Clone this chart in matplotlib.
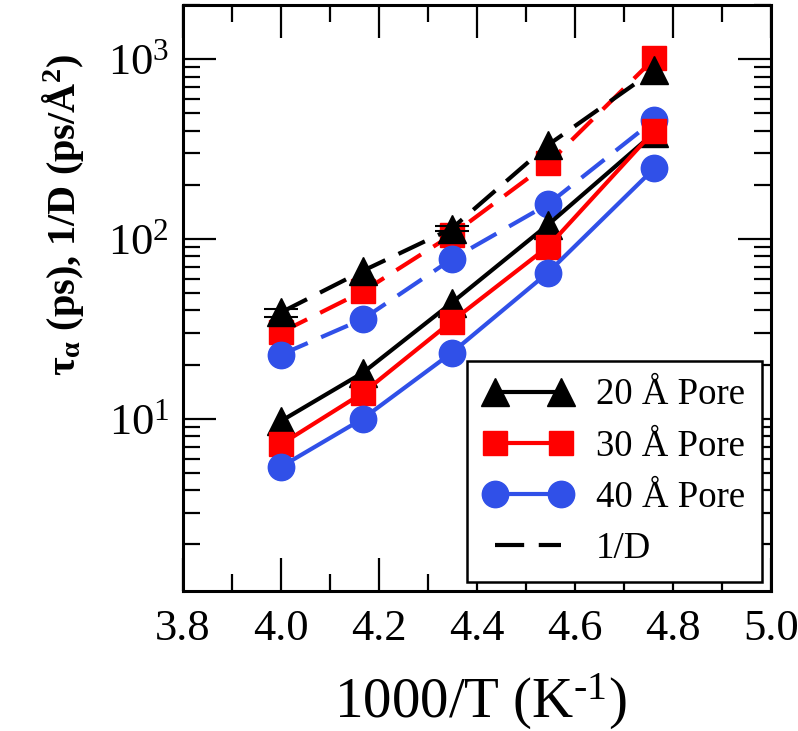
import numpy as np
import matplotlib
matplotlib.use("Agg")
import matplotlib.pyplot as plt
from matplotlib.lines import Line2D
from matplotlib.ticker import LogLocator, LogFormatterMathtext, MultipleLocator, NullFormatter

plt.rcParams['font.family'] = ['Liberation Serif', 'DejaVu Serif']
plt.rcParams['mathtext.fontset'] = 'custom'
plt.rcParams['mathtext.rm'] = 'Liberation Serif'
plt.rcParams['mathtext.it'] = 'Liberation Serif:italic'
plt.rcParams['mathtext.bf'] = 'Liberation Serif:bold'

# ---- data ----
inv_T = [4.0, 4.167, 4.348, 4.545, 4.762]
tau_20 = [9.7, 18.0, 44.0, 120.0, 390.0]
tau_30 = [7.2, 13.9, 34.7, 90.6, 400.0]
tau_40 = [5.4, 10.0, 23.2, 65.0, 247.0]
invD_20 = [39.0, 66.4, 114.0, 333.0, 868.0]
invD_30 = [30.2, 51.0, 105.0, 263.0, 1009.0]
invD_40 = [22.7, 35.8, 77.0, 156.0, 458.0]
invD_20_err = [2.0, np.nan, 4.0, np.nan, np.nan]
labels = ["20 Å Pore", "30 Å Pore", "40 Å Pore", "1/D"]

black = '#000000'
red = '#ff0000'
blue = '#3050e8'

fig = plt.figure(figsize=(7.98, 7.31), dpi=100)
ax = fig.add_axes([183/798, 1-591/731, (771-183)/798, (591-5)/731])

lw = 3.0
dash = (7, 3.5)
ms_tri, ms_sq, ms_c = 20, 17, 19

ax.plot(inv_T, invD_30, color=red, lw=lw, ls=(0, dash), marker='s', ms=ms_sq, mec=red)
ax.errorbar(inv_T, invD_20, yerr=invD_20_err, fmt='none', ecolor=black, elinewidth=1.5, capsize=12, capthick=1.5)
ax.plot(inv_T, invD_20, color=black, lw=lw, ls=(0, dash), marker='^', ms=ms_tri, mec=black)
ax.plot(inv_T, invD_40, color=blue, lw=lw, ls=(0, dash), marker='o', ms=ms_c, mec=blue)
ax.plot(inv_T, tau_20, color=black, lw=lw, marker='^', ms=ms_tri, mec=black)
ax.plot(inv_T, tau_30, color=red, lw=lw, marker='s', ms=ms_sq, mec=red)
ax.plot(inv_T, tau_40, color=blue, lw=lw, marker='o', ms=ms_c, mec=blue)

ax.set_yscale('log')
ax.set_xlim(3.8, 5.0)
ax.set_ylim(1.1, 2000)

ax.xaxis.set_major_locator(MultipleLocator(0.2))
ax.xaxis.set_minor_locator(MultipleLocator(0.1))
ax.xaxis.set_major_formatter(matplotlib.ticker.FormatStrFormatter('%.1f'))
ax.yaxis.set_major_locator(LogLocator(base=10, numticks=10))
ax.yaxis.set_minor_locator(LogLocator(base=10, subs=np.arange(2, 10), numticks=20))
ax.yaxis.set_major_formatter(LogFormatterMathtext())
ax.yaxis.set_minor_formatter(NullFormatter())

ax.tick_params(which='both', direction='in', top=True, right=True, width=1.6)
ax.tick_params(which='major', length=24, labelsize=32)
ax.tick_params(which='minor', length=12)
ax.tick_params(axis='x', which='major', pad=13)
ax.tick_params(axis='y', which='major', pad=10)
for s in ax.spines.values():
    s.set_linewidth(2.2)

handles = [
    Line2D([], [], color=black, lw=lw, marker='^', ms=ms_tri),
    Line2D([], [], color=red, lw=lw, marker='s', ms=ms_sq),
    Line2D([], [], color=blue, lw=lw, marker='o', ms=ms_c),
    Line2D([], [], color=black, lw=lw, ls=(0, dash)),
]
leg = ax.legend(handles, labels, loc='lower right', bbox_to_anchor=(0.9845, 0.015),
                fontsize=26.5, numpoints=2, handlelength=2.4, handletextpad=0.65,
                labelspacing=0.45, borderpad=0.45, borderaxespad=0.0,
                fancybox=False, framealpha=1, edgecolor='black')
leg.get_frame().set_linewidth(1.8)

fig.text(480/798, 1-718/731, r'1000/T (K$^{\text{-1}}$)', fontsize=41, ha='center', va='baseline')
fig.text(75/798, 1-215/731, r'$\mathbf{\tau_{\alpha}}$ (ps), 1/D (ps/Å$^{\mathbf{2}}$)',
         fontsize=29, fontweight='bold', rotation=90, rotation_mode='anchor',
         ha='center', va='baseline')

fig.savefig('out.png', dpi=100)
